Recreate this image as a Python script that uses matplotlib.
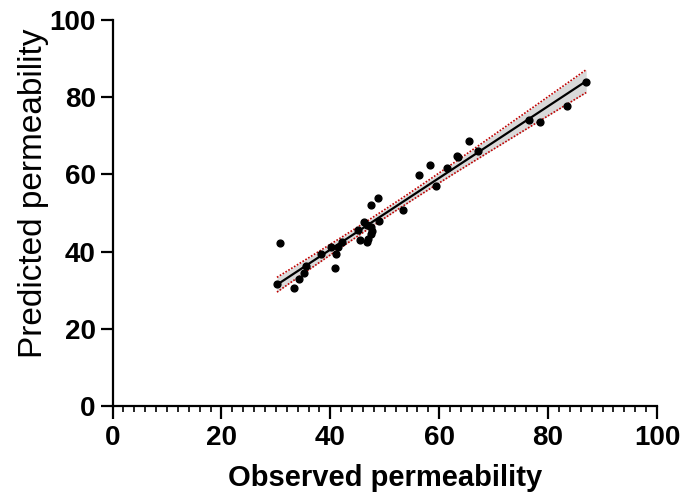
import matplotlib.pyplot as plt
from matplotlib import font_manager
import numpy as np

plt.rcParams['font.family'] = ['Liberation Sans', 'DejaVu Sans']

# avoid the Narrow variant being matched for bold text
bold_file = None
for f in font_manager.fontManager.ttflist:
    if f.name == 'Liberation Sans' and f.weight in (700, 'bold') and f.style == 'normal' \
            and 'Narrow' not in f.fname:
        bold_file = f.fname
if bold_file:
    bold = font_manager.FontProperties(fname=bold_file)
else:
    bold = font_manager.FontProperties(family='Liberation Sans', weight='bold')

# observed vs predicted permeability
observed = [30.7, 30.2, 33.3, 34.2, 35.2, 35.6, 38.2, 40.1, 40.8, 41.0, 41.4, 42.1,
            45.0, 45.5, 46.1, 46.8, 47.4, 47.7, 47.4, 46.9, 46.8, 47.4, 48.8, 49.0,
            53.4, 56.2, 58.4, 59.4, 61.5, 63.2, 63.5, 65.5, 67.2, 76.5, 78.6, 83.4, 87.0]
predicted = [42.3, 31.6, 30.5, 33.0, 34.4, 36.3, 39.4, 41.3, 35.8, 39.4, 41.3, 42.5,
             45.6, 43.0, 47.8, 47.0, 46.3, 45.4, 44.6, 43.2, 42.4, 52.1, 54.0, 48.0,
             50.7, 59.8, 62.4, 57.0, 61.7, 64.8, 64.4, 68.7, 66.0, 74.0, 73.6, 77.8, 83.9]

x = np.array(observed)
y = np.array(predicted)

# linear fit with 95% confidence band
slope, intercept = np.polyfit(x, y, 1)
n = len(x)
resid = y - (slope * x + intercept)
s = np.sqrt(np.sum(resid ** 2) / (n - 2))
t = 2.03
xx = np.linspace(x.min(), x.max(), 200)
yy = slope * xx + intercept
se = s * np.sqrt(1 / n + (xx - x.mean()) ** 2 / np.sum((x - x.mean()) ** 2))
lo = yy - t * se
hi = yy + t * se

fig = plt.figure(figsize=(6.87, 5.04), dpi=100)
ax = fig.add_axes([0.1638, 0.1944, 0.7925, 0.7659])

ax.fill_between(xx, lo, hi, color='#d9d9d9', lw=0, zorder=1)
ax.plot(xx, lo, color='#c00000', ls=(0, (1, 1)), lw=1.2, zorder=2)
ax.plot(xx, hi, color='#c00000', ls=(0, (1, 1)), lw=1.2, zorder=2)
ax.plot(xx, yy, color='black', lw=1.6, zorder=3)
ax.scatter(x, y, s=24, color='black', zorder=4, clip_on=False)

ax.set_xlim(0, 100)
ax.set_ylim(0, 100)
ax.set_xticks(np.arange(0, 101, 20))
ax.set_xticks(np.arange(0, 101, 2), minor=True)
ax.set_yticks(np.arange(0, 101, 20))

for side in ['top', 'right']:
    ax.spines[side].set_visible(False)
for side in ['left', 'bottom']:
    ax.spines[side].set_linewidth(1.6)

ax.tick_params(axis='both', which='major', length=9, width=1.6, pad=3)
ax.tick_params(axis='x', which='major', pad=5)
ax.tick_params(axis='x', which='minor', length=4.5, width=1.2)
for lab in ax.get_xticklabels() + ax.get_yticklabels():
    lab.set_fontproperties(bold)
    lab.set_fontsize(20)

ax.set_xlabel('Observed permeability', fontproperties=bold, fontsize=21, labelpad=9)
ax.set_ylabel('Predicted permeability', fontsize=24)
ax.yaxis.set_label_coords(-0.117, 0.55)

plt.savefig('out.png', dpi=100)
